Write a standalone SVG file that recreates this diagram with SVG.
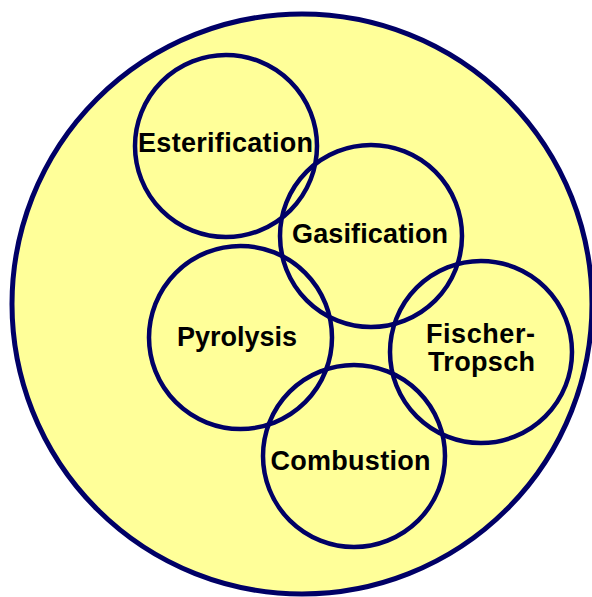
<svg xmlns="http://www.w3.org/2000/svg" width="592" height="597" viewBox="0 0 592 597">
  <style>
    .ring { fill: none; stroke: #000066; stroke-width: 4.5; }
    .lbl { font-family: "Liberation Sans", Arial, sans-serif; font-weight: bold; font-size: 27px; fill: #000000; text-anchor: middle; }
  </style>
  <rect width="592" height="597" fill="#ffffff"/>
  <g id="outer">
    <circle cx="302" cy="304" r="290" fill="#ffff99" stroke="#000066" stroke-width="5"/>
  </g>
  <g id="esterification">
    <circle class="ring" cx="226" cy="146" r="91"/>
    <text class="lbl" x="225.5" y="152" textLength="175" lengthAdjust="spacing">Esterification</text>
  </g>
  <g id="gasification">
    <circle class="ring" cx="371" cy="236" r="91"/>
    <text class="lbl" x="370" y="243" textLength="156" lengthAdjust="spacing">Gasification</text>
  </g>
  <g id="pyrolysis">
    <circle class="ring" cx="240.5" cy="337.5" r="91.5"/>
    <text class="lbl" x="237" y="346" textLength="120" lengthAdjust="spacing">Pyrolysis</text>
  </g>
  <g id="fischer-tropsch">
    <circle class="ring" cx="481" cy="352" r="91"/>
    <text class="lbl" x="480.5" y="343" textLength="109" lengthAdjust="spacing">Fischer-</text>
    <text class="lbl" x="481.5" y="371" textLength="107" lengthAdjust="spacing">Tropsch</text>
  </g>
  <g id="combustion">
    <circle class="ring" cx="354" cy="456" r="91"/>
    <text class="lbl" x="350.5" y="470" textLength="160" lengthAdjust="spacing">Combustion</text>
  </g>
</svg>
